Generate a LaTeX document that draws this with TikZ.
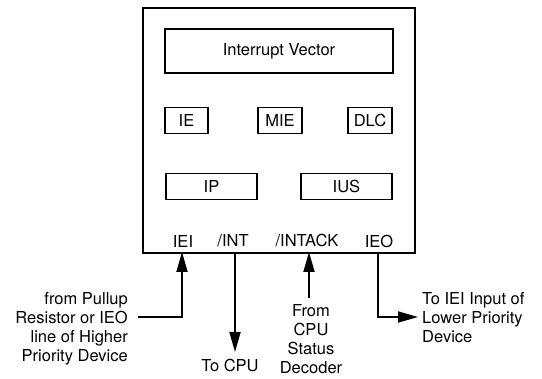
\documentclass[tikz,border=0pt]{standalone}
\usepackage{fontspec}
\setmainfont{TeX Gyre Heros}
\usetikzlibrary{arrows.meta}
\begin{document}
\begin{tikzpicture}[x=1pt,y=-1pt,
  every node/.style={font=\fontsize{16.5}{19}\selectfont, inner sep=0pt},
  blk/.style={draw, line width=1.3pt, minimum width=#1, minimum height=26.5pt},
  blk/.default=43pt,
  pin/.style={anchor=center},
  sig/.style={line width=1.8pt, -{Triangle[length=20pt,width=11pt]}},
  note/.style={align=#1},
]
\useasboundingbox (0,0) rectangle (542,379);
% outer device box
\node[draw, line width=2.6pt, minimum width=272pt, minimum height=245pt] (dev) at (279,130.5) {};
% inner blocks
\node[draw, line width=1.3pt, minimum width=228pt, minimum height=44pt] (iv) at (279,51) {Interrupt Vector};
\node[blk] (ie) at (186.5,120.5) {IE};
\node[blk=44pt] (mie) at (280,120.5) {MIE};
\node[blk=44pt] (dlc) at (370,120.5) {DLC};
\node[blk=91pt] (ip) at (211.5,186.5) {IP};
\node[blk=91pt] (ius) at (346.5,186.5) {IUS};
% pin labels
\node[pin] (iei) at (183,241) {IEI};
\node[pin] (int) at (233,241) {/INT};
\node[pin] (intack) at (307,241) {/INTACK};
\node[pin] (ieo) at (379,241) {IEO};
% external texts
\node[note=right, anchor=east] (tpull) at (128,328.5) {from Pullup\\Resistor or IEO\\line of Higher\\Priority Device};
\node (tcpu) at (230,365) {To CPU};
\node[note=center] (tdec) at (311,339) {From\\CPU\\Status\\Decoder};
\node[note=left, anchor=west] (tlow) at (422,317.5) {To IEI Input of\\Lower Priority\\Device};
% connection points on device bottom
\coordinate (pIEI) at (182,252);
\coordinate (pINT) at (235,252);
\coordinate (pACK) at (309,252);
\coordinate (pIEO) at (378,252);
\coordinate (cIEIin) at (138,317);
\coordinate (cIEIk) at (182,317);
\coordinate (cINTend) at (235,352);
\coordinate (cACKst) at (309,298);
\coordinate (cIEOk) at (378,317);
\coordinate (cIEOend) at (418,317);
% connectors
\draw[sig] (cIEIin) -- (cIEIk) -- (pIEI);
\draw[sig] (pINT) -- (cINTend);
\draw[sig] (cACKst) -- (pACK);
\draw[sig] (pIEO) -- (cIEOk) -- (cIEOend);
\end{tikzpicture}
\end{document}
